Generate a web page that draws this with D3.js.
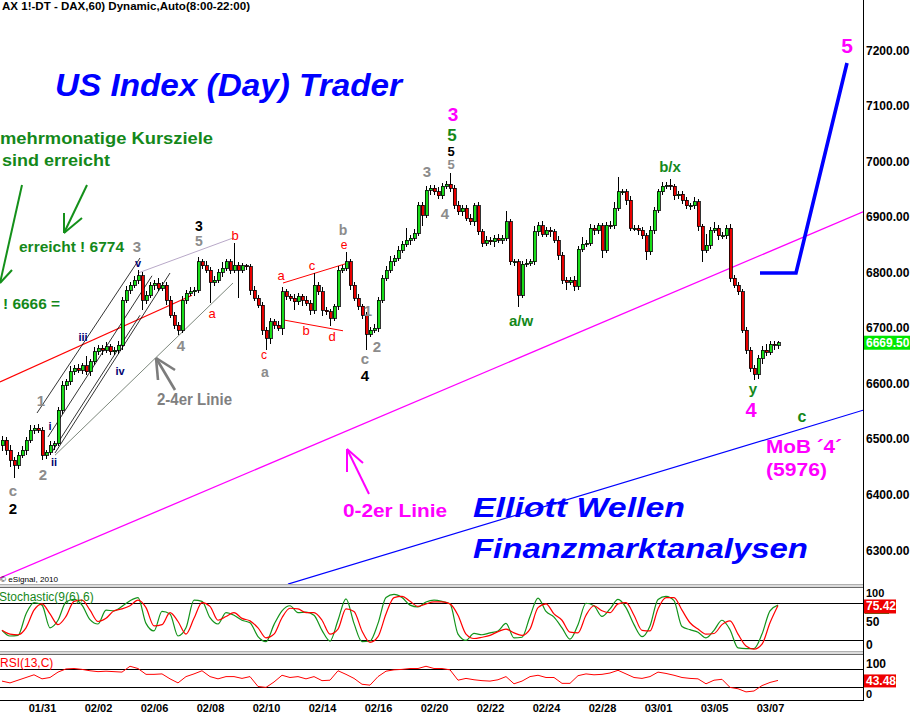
<!DOCTYPE html>
<html><head><meta charset="utf-8">
<script src="https://cdn.jsdelivr.net/npm/d3@7"></script>
<style>
body{margin:0;background:#fff}
svg{display:block}
text{font-family:"Liberation Sans",Arial,sans-serif}
</style>
</head><body>
<svg id="chart" width="913" height="717"></svg>
<script>
// ---------------- DATA ----------------
const firstOpen = 6485;
const closes = [
6494,6476,6458,6449,6467,6476,6494,6512,6516,6512,
6467,6472,6485,6488,6548,6593,6599,6617,6624,6620,
6628,6617,6635,6653,6660,6656,6662,6653,6656,6665,
6746,6764,6773,6782,6790,6746,6755,6773,6777,6768,
6773,6746,6719,6701,6692,6746,6759,6761,6764,6815,
6808,6800,6778,6782,6796,6804,6815,6800,6809,6800,
6808,6806,6764,6750,6737,6692,6678,6707,6701,6696,
6761,6753,6750,6743,6753,6746,6741,6728,6773,6761,
6728,6725,6714,6735,6800,6804,6815,6773,6750,6735,
6719,6685,6692,6696,6746,6786,6800,6815,6822,6836,
6847,6854,6858,6867,6917,6899,6944,6948,6941,6934,
6951,6955,6948,6917,6905,6912,6894,6887,6916,6869,
6849,6854,6851,6858,6854,6858,6887,6815,6815,6755,
6811,6813,6815,6869,6880,6865,6872,6869,6854,6827,
6782,6778,6782,6771,6838,6847,6849,6876,6872,6880,
6836,6881,6880,6912,6941,6941,6926,6876,6876,6872,
6862,6833,6872,6908,6941,6951,6953,6951,6934,6937,
6926,6916,6916,6923,6879,6836,6845,6872,6876,6862,
6862,6876,6786,6773,6761,6692,6656,6624,6613,6642,
6656,6652,6667,6665,6669.5
];
const wickHi = [
8,6,10,5,6,8,5,9,6,8, 6,5,7,5,6,8,5,10,6,8, 5,18,6,8,5,6,9,5,6,7,
6,8,5,7,10,6,8,5,6,9, 6,5,8,6,5,7,6,9,5,8, 6,9,5,8,6,10,5,6,40,6,
5,4,6,8,5,6,5,7,5,8, 9,6,5,8,6,5,7,5,22,6, 8,5,6,5,8,6,18,6,5,7,
5,6,5,8,6,5,7,10,6,8, 6,22,5,8,6,5,7,6,5,8, 6,5,20,6,8,5,6,7,5,6,
5,8,6,5,7,6,20,5,6,5, 6,8,5,10,6,8,5,6,5,7, 5,6,5,8,6,12,5,8,6,5,
5,6,8,10,27,6,5,7,6,5, 6,5,8,6,5,7,6,11,5,6, 5,6,5,8,6,5,20,6,10,5,
6,5,8,5,6,5,6,5,6,5, 8,12,6,5,4
];
const wickLo = [
10,8,12,23,6,5,8,5,6,5, 9,6,5,9,5,6,8,5,6,5, 6,5,7,5,6,8,5,6,5,6,
8,5,6,5,6,18,6,5,8,5, 6,8,5,6,9,5,6,5,8,5, 6,5,37,6,5,8,5,6,5,50,
5,6,8,6,5,8,22,10,6,5, 12,6,5,15,6,10,5,8,6,5, 10,6,14,5,6,5,6,8,5,6,
6,29,6,5,8,5,6,5,8,6, 5,6,8,5,6,19,5,8,6,5, 6,5,8,6,5,7,6,5,8,6,
8,5,6,10,5,6,5,6,8,21, 5,6,5,6,8,5,6,10,5,8, 6,14,5,8,6,5,6,5,8,6,
14,5,6,5,6,5,8,6,5,8, 6,15,5,6,5,6,5,6,8,5, 6,5,8,6,8,21,5,6,5,8,
5,6,8,5,6,5,6,8,11,8, 10,6,5,8,6
];
// indicators sampled every 2nd bar
const stochK = [
36,27,28,62,80,76,40,52,81,85, 76,53,46,68,67,74,83,88,47,35,
66,62,27,40,84,82,56,46,64,60, 52,48,26,18,45,67,75,64,65,60,
36,19,52,86,47,18,19,47,88,93, 88,76,73,81,84,82,78,30,20,31,
29,32,35,47,24,25,58,87,66,57, 40,22,45,79,75,58,70,85,72,45,
26,43,85,90,83,42,37,33,24,36, 52,37,8,7,7,30,67,76
];
const stochD = [
36,30,29,40,68,78,62,45,58,82, 84,68,50,55,67,70,75,84,72,43,
45,64,50,30,55,80,74,52,58,64, 55,51,40,24,30,56,71,70,64,64,
52,30,38,70,66,35,17,26,62,88, 90,82,74,78,81,81,78,60,30,23,
25,28,34,38,32,28,38,72,78,62, 52,33,32,60,75,67,64,78,80,60,
36,35,70,88,88,68,48,38,30,31, 45,51,30,11,6,14,48,75.42
];
const rsi = [
42,38,44,50,56,47,50,62,69,70, 68,65,63,64,63,62,75,70,57,57,
58,47,38,52,58,65,52,47,52,52, 48,52,30,28,40,55,50,52,47,52,
43,44,65,57,48,35,33,52,64,67, 68,70,70,75,70,70,67,44,48,45,
43,42,45,52,36,42,52,55,50,50, 37,37,54,58,56,57,60,66,58,50,
48,52,62,59,55,50,48,47,36,44, 46,28,25,18,20,32,39,43.48
];
const priceTicks = [7200,7100,7000,6900,6800,6700,6600,6500,6400,6300];
const dateLabels = ["01/31","02/02","02/06","02/08","02/10","02/14","02/16","02/20","02/22","02/24","02/28","03/01","03/05","03/07"];
const dateBars   = [10,24,38,52,66,80,94,108,122,136,150,164,178,192];
const stochTicks = [100,50,0];
const rsiTicks = [100,0];
const stochLevels = [80,20];
const rsiLevels = [70,30];
const lastPrice = 6669.50, lastStoch = 75.42, lastRsi = 43.48;

// annotations in (bar, price) space
const trendLines = [
  {pts:[[-0.5,6246],[215.25,6905]], c:"#ff00ff", w:1.3},
  {pts:[[71.5,6235],[215.25,6548]], c:"#0000ff", w:1.2},
  {pts:[[-0.5,6599],[47.5,6755]], c:"#ff0000", w:1.1},
  {pts:[[13.25,6467],[57.75,6777]], c:"#6e7a6e", w:0.9},
  {pts:[[34,6795],[57.75,6858]], c:"#b8a8c8", w:1},
  {pts:[[8.75,6543],[34.5,6822]], c:"#000", w:0.8},
  {pts:[[11.5,6500],[37.5,6790]], c:"#000", w:0.8},
  {pts:[[12.5,6473],[34.5,6719]], c:"#000", w:0.8},
  {pts:[[13.25,6471],[42,6795]], c:"#000", w:0.8},
  {pts:[[70.25,6777],[86.5,6813]], c:"#ff0000", w:1},
  {pts:[[70.75,6710],[85.25,6691]], c:"#ff0000", w:1},
  {pts:[[189.5,6795],[198.5,6795],[211.25,7173]], c:"#0000ff", w:3.6}
];
const arrows = [
  {pts:[[5,6953.4],[-0.5,6777]], heads:[[2.5,6800.4]], c:"#14901a", w:2},
  {pts:[[21.25,6953.4],[15.5,6867]], heads:[[20,6894],[15.5,6903]], c:"#14901a", w:2},
  {pts:[[43.25,6584.4],[38.5,6642]], heads:[[39,6602.4],[43.25,6620.4]], c:"#7c7c7c", w:2.6},
  {pts:[[91.75,6397.2],[86.25,6478.2]], heads:[[86.25,6436.8],[90.25,6453]], c:"#ff00ff", w:2}
];
const G="#8c8c8c", K="#000", R="#ff0000", N="#000070", GR="#14881a", M="#ff00ff";
const waveLabels = [
  ["c",2.75,6404,G,15,"bold"],["1",9.75,6566,G,15,"bold"],["2",10.25,6433,G,15,"bold"],
  ["3",33.75,6842,G,15,"bold"],["5",49.25,6852,G,14,"bold"],["4",44.75,6665,G,15,"bold"],
  ["a",65.75,6616.8,G,14,"bold"],["b",85.25,6872.4,G,14,"bold"],["1",91.5,6727,G,15,"bold"],
  ["2",93.75,6662,G,15,"bold"],["c",90.75,6642,G,15,"bold"],["5",112.25,6990,G,13,"bold"],
  ["3",106.25,6977,G,15,"bold"],["4",110.75,6903,G,15,"bold"],
  ["2",2.75,6372,K,15,"bold"],["3",49.25,6879,K,14,"bold"],["4",90.75,6611,K,15,"bold"],["5",112.25,7014,K,13,"bold"],
  ["b",58.25,6862,R,13,"normal"],["a",52.5,6723,R,13,"normal"],["c",65.5,6647.4,R,12,"normal"],
  ["a",69.75,6790,R,13,"normal"],["c",77.5,6809,R,13,"normal"],["b",76,6691,R,13,"normal"],
  ["d",82.5,6680,R,13,"normal"],["e",85.5,6845.4,R,12,"normal"],
  ["i",12,6520,N,11,"bold"],["ii",13,6455,N,11,"bold"],["iii",20.25,6680,N,11,"bold"],
  ["iv",29.5,6619,N,11,"bold"],["v",34,6813,N,11,"bold"],
  ["a/w",129.75,6710,GR,15,"bold"],["b/x",167,6986,GR,15,"bold"],["y",187.75,6588,GR,15,"bold"],["c",200,6536,GR,16,"bold"],
  ["3",112.75,7081,M,19,"bold"],["5",112.5,7043.4,GR,17,"bold"],["4",187.25,6548,M,20,"bold"],["5",211.25,7205,M,21,"bold"]
];

// ---------------- LAYOUT ----------------
const svg = d3.select("#chart");
const AX = 863, MAIN_B = 584;
const x = d3.scaleLinear().domain([0, closes.length-1]).range([2, 778]);
const y = d3.scaleLinear().domain([6300, 7200]).range([548, 48]);
const yS = d3.scaleLinear().domain([0,100]).range([653, 590]);
const yR = d3.scaleLinear().domain([0,100]).range([700, 655]);

svg.append("rect").attr("width",913).attr("height",717).attr("fill","#fff");
svg.append("defs").append("clipPath").attr("id","mainClip")
  .append("rect").attr("x",0).attr("y",0).attr("width",AX).attr("height",MAIN_B);
const main = svg.append("g").attr("clip-path","url(#mainClip)");

// trend lines
const lineGen = d3.line().x(d=>x(d[0])).y(d=>y(d[1]));
main.selectAll(".tl").data(trendLines).join("path")
  .attr("d",d=>lineGen(d.pts)).attr("fill","none")
  .attr("stroke",d=>d.c).attr("stroke-width",d=>d.w).attr("stroke-linejoin","miter");

// candles
const candles = closes.map((c,i)=>{
  const o = i===0 ? firstOpen : closes[i-1];
  return {i, o, c, h: Math.max(o,c)+wickHi[i], l: Math.min(o,c)-wickLo[i]};
});
const cg = main.append("g").attr("shape-rendering","crispEdges");
cg.selectAll(".wk").data(candles).join("line")
  .attr("x1",d=>Math.round(x(d.i))+0.5).attr("x2",d=>Math.round(x(d.i))+0.5)
  .attr("y1",d=>y(d.h)).attr("y2",d=>y(d.l)).attr("stroke","#000").attr("stroke-width",1);
cg.selectAll(".bd").data(candles).join("rect")
  .attr("x",d=>Math.round(x(d.i))-1).attr("width",3)
  .attr("y",d=>y(Math.max(d.o,d.c)))
  .attr("height",d=>Math.max(1, y(Math.min(d.o,d.c))-y(Math.max(d.o,d.c))))
  .attr("fill",d=>d.c>=d.o ? "#18dc18" : "#e80000")
  .attr("stroke","#000").attr("stroke-width",0.8);

// arrows
arrows.forEach(a=>{
  main.append("path").attr("d",lineGen(a.pts)).attr("stroke",a.c).attr("stroke-width",a.w).attr("fill","none");
  const tip = a.pts[a.pts.length-1];
  a.heads.forEach(h=>{
    main.append("path").attr("d",lineGen([h,tip])).attr("stroke",a.c).attr("stroke-width",a.w).attr("fill","none");
  });
});

// wave labels
main.selectAll(".wl").data(waveLabels).join("text")
  .attr("x",d=>x(d[1])).attr("y",d=>y(d[2]))
  .attr("text-anchor","middle").attr("dominant-baseline","central")
  .attr("fill",d=>d[3]).attr("font-size",d=>d[4]).attr("font-weight",d=>d[5])
  .text(d=>d[0]);

// free texts
function txt(s, px, py, opt){
  const t = main.append("text").attr("x",px).attr("y",py).text(s)
    .attr("fill",opt.c).attr("font-size",opt.s).attr("font-weight",opt.b?"bold":"normal");
  if(opt.i) t.attr("font-style","italic");
  if(opt.len) t.attr("textLength",opt.len).attr("lengthAdjust","spacingAndGlyphs");
  return t;
}
txt("AX 1!-DT - DAX,60) Dynamic,Auto(8:00-22:00)", 2, 10, {c:"#000", s:11, b:1, len:248});
txt("US Index (Day) Trader", 55, 96, {c:"#0000ff", s:32, b:1, i:1, len:347});
txt("mehrmonatige Kursziele", 0, 144, {c:GR, s:16, b:1, len:213});
txt("sind erreicht", 2, 166, {c:GR, s:16, b:1, len:108});
txt("erreicht ! 6774", 19, 252, {c:GR, s:15, b:1, len:105});
txt("! 6666 =", 3, 309, {c:GR, s:15, b:1, len:57});
txt("2-4er Linie", 157, 405, {c:"#808080", s:16, b:1, len:75});
txt("0-2er Linie", 343, 517, {c:M, s:18, b:1, len:104});
txt("Elliott Wellen", 473, 517, {c:"#0000ff", s:28, b:1, i:1, len:212});
txt("Finanzmarktanalysen", 473, 558, {c:"#0000ff", s:28, b:1, i:1, len:335});
txt("MoB \u00b44\u00b4", 766, 453, {c:M, s:19, b:1, len:76});
txt("(5976)", 766, 476, {c:M, s:19, b:1, len:61});
txt("\u00a9 eSignal, 2010", 0, 582, {c:"#000", s:8, b:0, len:58});

// ---------------- INDICATOR PANELS ----------------
function separator(yy){
  svg.append("rect").attr("x",0).attr("y",yy).attr("width",AX).attr("height",4).attr("fill","#dcdcdc");
  svg.append("line").attr("x1",0).attr("x2",AX).attr("y1",yy+0.5).attr("y2",yy+0.5).attr("stroke","#b0b0b0");
  svg.append("line").attr("x1",0).attr("x2",AX).attr("y1",yy+3.5).attr("y2",yy+3.5).attr("stroke","#6a6a6a");
}
separator(584);
separator(651);

const hl = svg.append("g").attr("shape-rendering","crispEdges");
stochLevels.forEach(v=>hl.append("line").attr("x1",0).attr("x2",AX).attr("y1",Math.round(yS(v))+0.5).attr("y2",Math.round(yS(v))+0.5).attr("stroke","#000"));
rsiLevels.forEach(v=>hl.append("line").attr("x1",0).attr("x2",AX).attr("y1",Math.round(yR(v))+0.5).attr("y2",Math.round(yR(v))+0.5).attr("stroke","#000"));

const indLine = (sc)=> d3.line().x((d,j)=>x(2*j)).y(d=>sc(d)).curve(d3.curveMonotoneX);
svg.append("path").attr("d",indLine(yS)(stochK)).attr("fill","none").attr("stroke","#13931a").attr("stroke-width",1.2);
svg.append("path").attr("d",indLine(yS)(stochD)).attr("fill","none").attr("stroke","#ff0000").attr("stroke-width",1.2);
svg.append("path").attr("d",d3.line().x((d,j)=>x(2*j)).y(d=>yR(d))(rsi)).attr("fill","none").attr("stroke","#ff0000").attr("stroke-width",1);

svg.append("text").attr("x",-1).attr("y",601).attr("fill","#14881a").attr("font-size",12).text("Stochastic(9(6),6)");
svg.append("text").attr("x",0).attr("y",667).attr("fill","#ff0000").attr("font-size",12).text("RSI(13,C)");

// frame lines
svg.append("line").attr("x1",AX+0.5).attr("x2",AX+0.5).attr("y1",0).attr("y2",701).attr("stroke","#000");
svg.append("line").attr("x1",0).attr("x2",AX).attr("y1",700.5).attr("y2",700.5).attr("stroke","#000");

// ---------------- AXES ----------------
const yAxis = d3.axisRight(y).tickValues(priceTicks).tickFormat(d3.format(".2f")).tickSize(0).tickPadding(3);
const ya = svg.append("g").attr("transform",`translate(${AX},0)`).call(yAxis);
ya.select(".domain").remove();
ya.selectAll("text").attr("font-size",12).attr("font-weight","bold").attr("font-family","Liberation Sans, Arial").attr("fill","#000").attr("dy","0.5em");

const xAxis = d3.axisBottom(x).tickValues(dateBars).tickFormat((d,i)=>dateLabels[i]).tickSize(0).tickPadding(4);
const xa = svg.append("g").attr("transform","translate(0,700)").call(xAxis);
xa.select(".domain").remove();
xa.selectAll("text").attr("font-size",11).attr("font-weight","bold").attr("font-family","Liberation Sans, Arial").attr("fill","#000");

const clampS = v=>Math.min(Math.max(yS(v),592.5),645);
const clampR = v=>Math.min(Math.max(yR(v),664),694);
svg.selectAll(".st").data(stochTicks).join("text").attr("x",866).attr("y",d=>clampS(d)).attr("dominant-baseline","central")
  .attr("font-size",d=>d===100?11:12).attr("font-weight","bold").text(d=>d);
svg.selectAll(".rt").data(rsiTicks).join("text").attr("x",866).attr("y",d=>clampR(d)).attr("dominant-baseline","central")
  .attr("font-size",d=>d===0?11:12).attr("font-weight","bold").text(d=>d);

// value boxes
function valBox(yy, label, fill, w, h){
  svg.append("rect").attr("x",864).attr("y",yy-h/2).attr("width",w).attr("height",h).attr("fill",fill);
  svg.append("text").attr("x",866).attr("y",yy).attr("dominant-baseline","central").attr("fill","#fff")
    .attr("font-size",12).attr("font-weight","bold").text(label);
}
svg.append("rect").attr("x",865).attr("y",yS(lastStoch)+7).attr("width",24).attr("height",1.5).attr("fill","#13931a");
valBox(y(lastPrice), d3.format(".2f")(lastPrice), "#00e800", 46, 14);
valBox(yS(lastStoch)+1, d3.format(".2f")(lastStoch), "#ee0000", 32, 14);
valBox(yR(lastRsi)+0.5, d3.format(".2f")(lastRsi), "#ee0000", 32, 13);
</script>
</body></html>
